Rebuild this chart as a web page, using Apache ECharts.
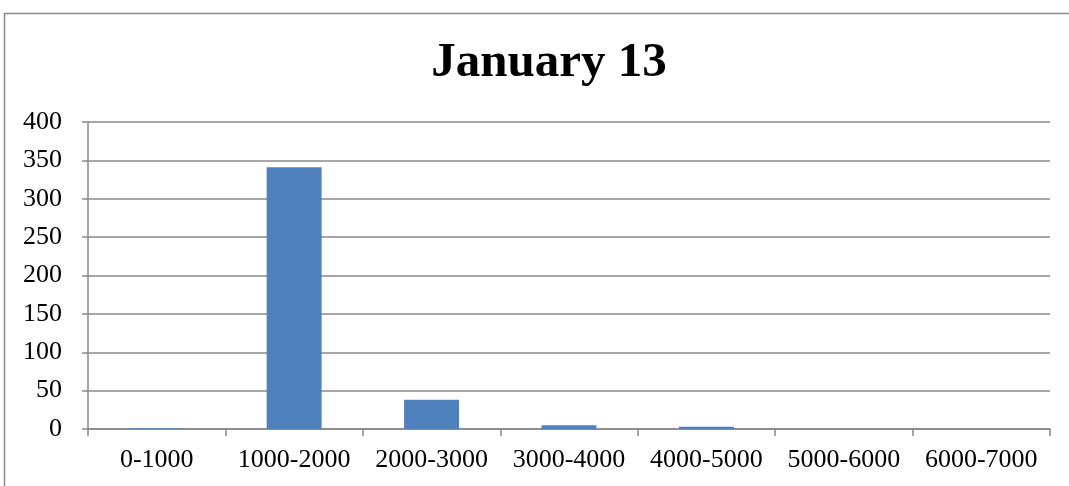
<!DOCTYPE html>
<html>
<head>
<meta charset="utf-8">
<script src="https://cdn.jsdelivr.net/npm/echarts@6/dist/echarts.min.js"></script>
<style>
  html, body { margin: 0; padding: 0; background: #fff; }
  #chart { width: 1069px; height: 486px; }
</style>
</head>
<body>
<div id="chart"></div>
<script>
// Histogram of counts per range
const categories = ['0-1000', '1000-2000', '2000-3000', '3000-4000', '4000-5000', '5000-6000', '6000-7000'];
const counts = [1, 341, 38, 5, 3, 0, 0];
const titleText = 'January 13';

const chart = echarts.init(document.getElementById('chart'));
const serif = '"Liberation Serif", "Times New Roman", serif';

chart.setOption({
  animation: false,
  backgroundColor: '#fff',
  title: {
    text: titleText,
    left: 544,
    textAlign: 'center',
    top: 34,
    textStyle: { fontFamily: serif, fontSize: 49, fontWeight: 'bold', color: '#000' }
  },
  graphic: [{
    type: 'rect',
    shape: { x: 4.5, y: 13.5, width: 1100, height: 500 },
    style: { fill: 'none', stroke: '#888', lineWidth: 1.5 },
    silent: true
  }],
  grid: { left: 88, right: 19, top: 122, bottom: 57, containLabel: false },
  xAxis: {
    type: 'category',
    data: categories,
    axisLine: { show: true, lineStyle: { color: '#888', width: 1.5 } },
    axisTick: { show: true, alignWithLabel: false, length: 7, lineStyle: { color: '#888', width: 1.5 } },
    axisLabel: { fontFamily: serif, fontSize: 26, color: '#000', margin: 18, interval: 0 }
  },
  yAxis: {
    type: 'value',
    min: 0, max: 400, interval: 50,
    axisLine: { show: true, lineStyle: { color: '#888', width: 1.5 } },
    axisTick: { show: true, length: 6, lineStyle: { color: '#888', width: 1.5 } },
    axisLabel: { fontFamily: serif, fontSize: 26, color: '#000', margin: 26 },
    splitLine: { show: true, lineStyle: { color: '#888', width: 1.5 } }
  },
  series: [{
    type: 'bar',
    data: counts,
    barWidth: '40%',
    itemStyle: { color: '#4F81BD' }
  }]
});
</script>
</body>
</html>
